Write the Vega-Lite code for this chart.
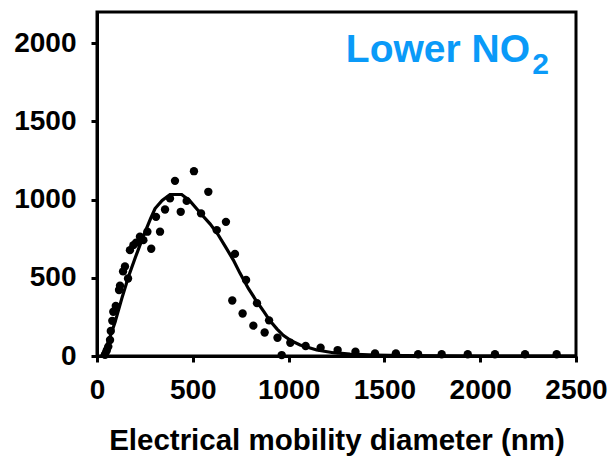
{
  "$schema": "https://vega.github.io/schema/vega-lite/v6.json",
  "width": 479,
  "height": 344,
  "autosize": "none",
  "padding": {"left": 97, "top": 12, "right": 33, "bottom": 101},
  "config": {
    "font": "Liberation Sans",
    "view": {"stroke": "black", "strokeWidth": 3},
    "axis": {
      "grid": false,
      "domainColor": "black",
      "domainWidth": 3,
      "tickColor": "black",
      "tickWidth": 3,
      "tickSize": 6,
      "labelColor": "black",
      "labelFont": "Liberation Sans",
      "labelFontSize": 28,
      "labelFontWeight": "bold",
      "labelFlush": false,
      "labelOverlap": false,
      "labelBound": false,
      "format": "d",
      "titleColor": "black",
      "titleFont": "Liberation Sans",
      "titleFontWeight": "bold"
    }
  },
  "datasets": {
    "measured": [
      {"d": 42, "n": 8}, {"d": 51, "n": 35}, {"d": 59, "n": 60}, {"d": 68, "n": 102},
      {"d": 72, "n": 160}, {"d": 80, "n": 225}, {"d": 85, "n": 283}, {"d": 98, "n": 320},
      {"d": 115, "n": 422}, {"d": 120, "n": 450}, {"d": 136, "n": 541}, {"d": 146, "n": 573},
      {"d": 162, "n": 496}, {"d": 172, "n": 677}, {"d": 190, "n": 709}, {"d": 204, "n": 725},
      {"d": 224, "n": 763}, {"d": 242, "n": 741}, {"d": 263, "n": 795}, {"d": 283, "n": 686},
      {"d": 308, "n": 890}, {"d": 329, "n": 795}, {"d": 355, "n": 937}, {"d": 381, "n": 1008},
      {"d": 407, "n": 1120}, {"d": 437, "n": 922}, {"d": 468, "n": 992}, {"d": 506, "n": 1182},
      {"d": 543, "n": 912}, {"d": 581, "n": 1050}, {"d": 625, "n": 805}, {"d": 673, "n": 858},
      {"d": 706, "n": 355}, {"d": 720, "n": 653}, {"d": 760, "n": 272}, {"d": 778, "n": 486},
      {"d": 816, "n": 194}, {"d": 835, "n": 338}, {"d": 875, "n": 150}, {"d": 898, "n": 228},
      {"d": 942, "n": 117}, {"d": 964, "n": 6}, {"d": 1009, "n": 85}, {"d": 1089, "n": 64},
      {"d": 1167, "n": 53}, {"d": 1256, "n": 38}, {"d": 1349, "n": 27}, {"d": 1451, "n": 17},
      {"d": 1560, "n": 17}, {"d": 1676, "n": 11}, {"d": 1799, "n": 11}, {"d": 1935, "n": 11},
      {"d": 2077, "n": 11}, {"d": 2234, "n": 11}, {"d": 2399, "n": 11}
    ],
    "fit": [
      {"d": 24, "n": 0}, {"d": 59, "n": 90}, {"d": 94, "n": 215}, {"d": 130, "n": 370},
      {"d": 165, "n": 510}, {"d": 200, "n": 630}, {"d": 240, "n": 760}, {"d": 280, "n": 880},
      {"d": 303, "n": 943}, {"d": 340, "n": 995}, {"d": 381, "n": 1033}, {"d": 442, "n": 1033},
      {"d": 485, "n": 992}, {"d": 546, "n": 905}, {"d": 590, "n": 845}, {"d": 630, "n": 780},
      {"d": 670, "n": 700}, {"d": 711, "n": 615}, {"d": 746, "n": 530}, {"d": 790, "n": 432},
      {"d": 833, "n": 350}, {"d": 870, "n": 285}, {"d": 903, "n": 225}, {"d": 940, "n": 172},
      {"d": 972, "n": 132}, {"d": 1010, "n": 100}, {"d": 1060, "n": 70}, {"d": 1147, "n": 38},
      {"d": 1233, "n": 21}, {"d": 1320, "n": 12}, {"d": 1450, "n": 6}, {"d": 1600, "n": 3},
      {"d": 1800, "n": 1}, {"d": 2000, "n": 0}, {"d": 2500, "n": 0}
    ],
    "legend": [
      {"label": "Lower NO", "sub": "2", "d": 2260, "n": 1880, "dsub": 2272, "nsub": 1805}
    ]
  },
  "layer": [
    {
      "data": {"name": "measured"},
      "mark": {"type": "circle", "size": 70, "color": "black", "opacity": 1},
      "encoding": {
        "x": {
          "field": "d",
          "type": "quantitative",
          "scale": {"domain": [0, 2500], "nice": false},
          "axis": {
            "values": [0, 500, 1000, 1500, 2000, 2500],
            "labelPadding": 14,
            "title": "Electrical mobility diameter (nm)",
            "titleFontSize": 29.5,
            "titlePadding": 22
          }
        },
        "y": {
          "field": "n",
          "type": "quantitative",
          "scale": {"domain": [0, 2200], "nice": false},
          "axis": {
            "values": [0, 500, 1000, 1500, 2000],
            "labelPadding": 15,
            "title": null
          }
        }
      }
    },
    {
      "data": {"name": "fit"},
      "mark": {"type": "line", "color": "black", "strokeWidth": 3.2},
      "encoding": {
        "x": {"field": "d", "type": "quantitative"},
        "y": {"field": "n", "type": "quantitative"}
      }
    },
    {
      "data": {"name": "legend"},
      "mark": {
        "type": "text",
        "align": "right",
        "baseline": "alphabetic",
        "font": "Liberation Sans",
        "fontSize": 39,
        "fontWeight": "bold",
        "color": "#0A9AF8"
      },
      "encoding": {
        "text": {"field": "label"},
        "x": {"field": "d", "type": "quantitative"},
        "y": {"field": "n", "type": "quantitative"}
      }
    },
    {
      "data": {"name": "legend"},
      "mark": {
        "type": "text",
        "align": "left",
        "baseline": "alphabetic",
        "font": "Liberation Sans",
        "fontSize": 30,
        "fontWeight": "bold",
        "color": "#0A9AF8"
      },
      "encoding": {
        "text": {"field": "sub"},
        "x": {"field": "dsub", "type": "quantitative"},
        "y": {"field": "nsub", "type": "quantitative"}
      }
    }
  ]
}
